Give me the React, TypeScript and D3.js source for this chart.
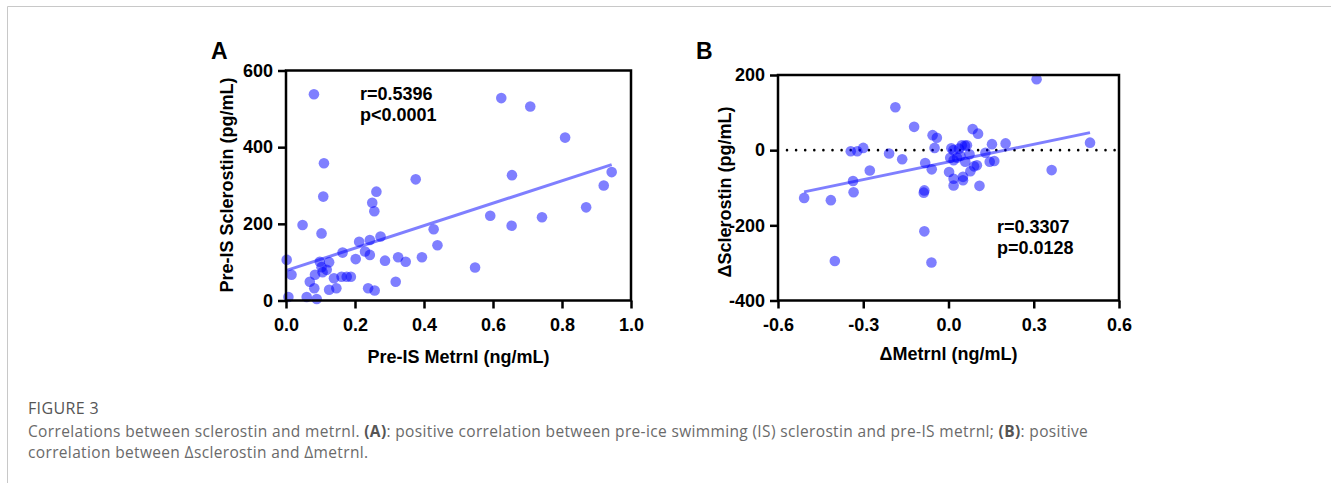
import React, { useEffect, useRef } from 'react'
import * as d3 from 'd3'

// A: pre-IS metrnl (ng/mL) vs pre-IS sclerostin (pg/mL)
const preMetrnl = [0.081, 0.624, 0.708, 0.809, 0.110, 0.376, 0.655, 0.944, 0.921, 0.108, 0.262, 0.250, 0.256, 0.870, 0.592, 0.742, 0.654, 0.048, 0.103, 0.428, 0.439, 0.274, 0.243, 0.212, 0.229, 0.164, 0.243, 0.325, 0.394, 0.347, 0.287, 0.202, 0.002, 0.098, 0.125, 0.103, 0.118, 0.106, 0.548, 0.016, 0.084, 0.161, 0.176, 0.188, 0.069, 0.139, 0.318, 0.082, 0.125, 0.146, 0.238, 0.257, 0.007, 0.060, 0.089]
const preSclerostin = [538, 528, 506, 425, 358, 316, 327, 335, 300, 271, 284, 255, 233, 243, 221, 217, 195, 197, 175, 186, 144, 167, 158, 153, 128, 125, 119, 113, 113, 101, 104, 108, 106, 101, 100, 87, 80, 74, 86, 67, 67, 62, 62, 62, 49, 58, 49, 32, 28, 32, 32, 26, 9, 9, 4]

// B: delta metrnl vs delta sclerostin
const deltaMetrnl = [-0.508, -0.414, -0.400, -0.344, -0.321, -0.300, -0.336, -0.334, -0.277, -0.209, -0.187, -0.163, -0.121, -0.087, -0.085, -0.085, -0.060, -0.082, -0.059, -0.056, -0.041, -0.049, 0.002, 0.006, 0.010, 0.017, 0.018, 0.030, 0.018, 0.018, 0.042, 0.037, 0.047, 0.058, 0.065, 0.074, 0.059, 0.051, 0.051, 0.077, 0.090, 0.100, 0.085, 0.104, 0.109, 0.130, 0.153, 0.145, 0.161, 0.201, 0.310, 0.363, 0.498]
const deltaSclerostin = [-127, -133, -295, -3, -3, 6, -82, -112, -54, -9, 114, -24, 62, -113, -107, -216, -299, -34, -51, 40, 33, 6, -58, -20, 5, 0, -27, -20, -94, -76, -15, 4, 13, 12, 13, -11, -31, -71, -80, -56, -43, -40, 56, 44, -95, -7, 16, -31, -29, 18, 189, -53, 20]

// regression lines
const fitA = { slope: 293, intercept: 78 }
const fitB = { slope: 156.7, intercept: -31.4 }

const xTicksA = [0, 0.2, 0.4, 0.6, 0.8, 1.0]
const yTicksA = [0, 200, 400, 600]
const xTicksB = [-0.6, -0.3, 0, 0.3, 0.6]
const yTicksB = [-400, -200, 0, 200]

const statsA = ['r=0.5396', 'p<0.0001']
const statsB = ['r=0.3307', 'p=0.0128']

const FONT = '"Liberation Sans", Arial, sans-serif'
const BLUE = '#0000ff'

function drawPanel(svg, o) {
  const x = d3.scaleLinear().domain(o.xDomain).range([o.left, o.right])
  const y = d3.scaleLinear().domain(o.yDomain).range([o.bottom, o.top])
  const g = svg.append('g')

  // zero reference line
  if (o.zeroLine) {
    g.append('line')
      .attr('x1', x(o.xDomain[0]) + 9).attr('x2', o.right)
      .attr('y1', y(0)).attr('y2', y(0))
      .attr('stroke', '#000').attr('stroke-width', 2.6)
      .attr('stroke-linecap', 'round').attr('stroke-dasharray', '0 9.1')
  }

  // points
  g.append('g').selectAll('circle')
    .data(o.xs.map((v, i) => [v, o.ys[i]]))
    .enter().append('circle')
    .attr('cx', d => x(d[0]))
    .attr('cy', d => y(d[1]))
    .attr('r', 5.3)
    .attr('fill', BLUE)
    .attr('fill-opacity', 0.5)

  // fit line
  const ext = d3.extent(o.xs)
  const line = d3.line().x(d => x(d)).y(d => y(o.fit.slope * d + o.fit.intercept))
  g.append('path')
    .attr('d', line(ext))
    .attr('stroke', BLUE).attr('stroke-opacity', 0.5)
    .attr('stroke-width', 3).attr('fill', 'none')

  // axes
  const fmt = d => d.toFixed(o.xDigits)
  const xAxis = d3.axisBottom(x).tickValues(o.xTicks).tickFormat(fmt).tickSize(8).tickSizeOuter(0).tickPadding(10)
  const yAxis = d3.axisLeft(y).tickValues(o.yTicks).tickFormat(d => String(d)).tickSize(8).tickSizeOuter(0).tickPadding(5)
  const ax = g.append('g').attr('transform', `translate(0,${o.bottom})`).call(xAxis)
  const ay = g.append('g').attr('transform', `translate(${o.left},0)`).call(yAxis)
  ;[ax, ay].forEach(a => {
    a.select('.domain').remove()
    a.selectAll('line').attr('stroke', '#000').attr('stroke-width', 2.5)
    a.selectAll('text').attr('fill', '#000').style('font-family', FONT).style('font-size', '18px').style('font-weight', 'bold')
  })

  // frame
  g.append('rect')
    .attr('x', o.left).attr('y', o.top)
    .attr('width', o.right - o.left).attr('height', o.bottom - o.top)
    .attr('fill', 'none').attr('stroke', '#000').attr('stroke-width', 2.5)

  const txt = (s, tx, ty, size, extra = {}) => {
    const t = g.append('text').attr('x', tx).attr('y', ty).text(s)
      .style('font-family', FONT).style('font-size', size + 'px').style('font-weight', 'bold').attr('fill', '#000')
    Object.entries(extra).forEach(([k, v]) => t.attr(k, v))
    return t
  }

  txt(o.label, o.labelX, 59, 23)
  txt(o.xTitle, (o.left + o.right) / 2, o.xTitleY, 18, { 'text-anchor': 'middle' })
  txt(o.yTitle, 0, 0, 18, { 'text-anchor': 'middle', transform: `translate(${o.yTitleX},${o.yTitleY}) rotate(-90)` })
  o.stats.forEach((s, i) => txt(s, o.statsX, o.statsY + i * 21, 18))
}

export default function App() {
  const ref = useRef(null)

  useEffect(() => {
    const svg = d3.select(ref.current)
    svg.selectAll('*').remove()

    // page frame
    svg.append('path').attr('d', 'M7.5,483 V6.5 H1331').attr('fill', 'none').attr('stroke', '#c8c8c8').attr('stroke-width', 1)

    drawPanel(svg, {
      xs: preMetrnl, ys: preSclerostin, fit: fitA,
      xDomain: [0, 1], yDomain: [0, 600], xTicks: xTicksA, yTicks: yTicksA, xDigits: 1,
      left: 286, right: 631, top: 70.5, bottom: 300.5,
      label: 'A', labelX: 211,
      xTitle: 'Pre-IS Metrnl (ng/mL)', xTitleY: 363,
      yTitle: 'Pre-IS Sclerostin (pg/mL)', yTitleX: 233, yTitleY: 185,
      stats: statsA, statsX: 360, statsY: 100,
    })
    drawPanel(svg, {
      xs: deltaMetrnl, ys: deltaSclerostin, fit: fitB, zeroLine: true,
      xDomain: [-0.6, 0.6], yDomain: [-400, 200], xTicks: xTicksB, yTicks: yTicksB, xDigits: 1,
      left: 778, right: 1119, top: 75, bottom: 300.5,
      label: 'B', labelX: 696,
      xTitle: 'ΔMetrnl (ng/mL)', xTitleY: 360,
      yTitle: 'ΔSclerostin (pg/mL)', yTitleX: 731, yTitleY: 192,
      stats: statsB, statsX: 997, statsY: 233,
    })

    // caption
    const cap = svg.append('g')
      .style('font-family', '"Open Sans", "Noto Sans", sans-serif')
      .style('letter-spacing', '0.35px')
      .attr('fill', '#6a6a6a')
    cap.append('text').attr('x', 28).attr('y', 414).text('FIGURE 3')
      .style('font-size', '16px').attr('fill', '#555')
    const l1 = cap.append('text').attr('x', 28).attr('y', 437).style('font-size', '15.5px')
    ;[
      ['Correlations between sclerostin and metrnl. ', false],
      ['(A)', true],
      [': positive correlation between pre-ice swimming (IS) sclerostin and pre-IS metrnl; ', false],
      ['(B)', true],
      [': positive', false],
    ].forEach(([s, b]) => l1.append('tspan').text(s).style('font-weight', b ? 'bold' : 'normal').attr('fill', b ? '#555' : null))
    cap.append('text').attr('x', 28).attr('y', 458).style('font-size', '15.5px')
      .text('correlation between Δsclerostin and Δmetrnl.')
  }, [])

  return (
    <svg ref={ref} width={1331} height={483}
      style={{ position: 'absolute', left: 0, top: 0, background: '#fff' }} />
  )
}
